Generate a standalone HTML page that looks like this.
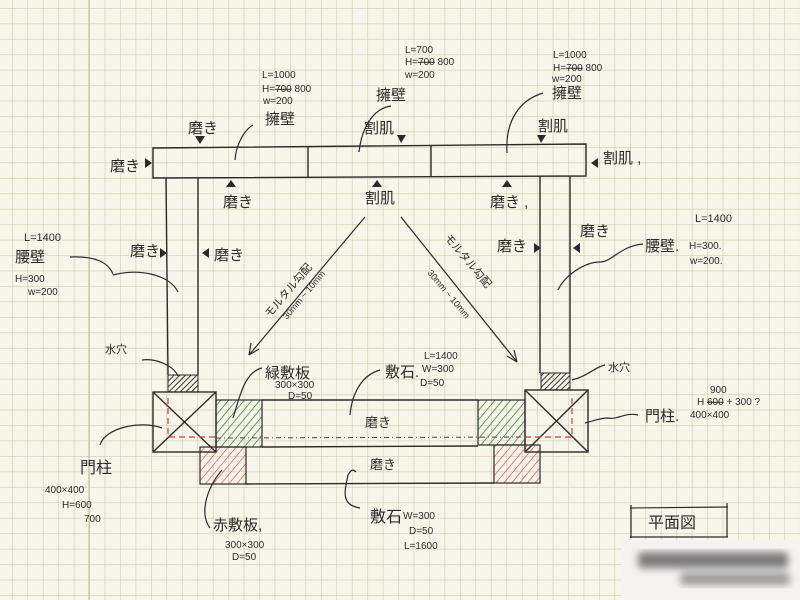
<!DOCTYPE html>
<html><head><meta charset="utf-8"><style>
html,body{margin:0;padding:0;background:#f8f6ea}
svg{display:block}
text{font-family:"Liberation Sans","Noto Sans CJK JP",sans-serif;fill:#2a2a2a}
.j{font-size:15px}
.s{font-size:10px}
</style></head><body>
<svg width="800" height="600" viewBox="0 0 800 600" xmlns="http://www.w3.org/2000/svg">
<defs>
<pattern id="g" x="12" y="8" width="15.45" height="15.45" patternUnits="userSpaceOnUse">
<path d="M0 0H15.45M0 0V15.45" stroke="#d0c9ad" stroke-width="1.2" fill="none"/>
</pattern>
<pattern id="hk" width="4" height="4" patternUnits="userSpaceOnUse" patternTransform="rotate(45)"><line x1="0" y1="0" x2="0" y2="4" stroke="#222" stroke-width="1.8"/></pattern>
<pattern id="hg" width="6" height="6" patternUnits="userSpaceOnUse" patternTransform="rotate(40)"><line x1="0" y1="0" x2="0" y2="6" stroke="#2e7d4a" stroke-width="1.5"/></pattern>
<pattern id="hr" width="6" height="6" patternUnits="userSpaceOnUse" patternTransform="rotate(40)"><line x1="0" y1="0" x2="0" y2="6" stroke="#d9364a" stroke-width="1.2"/></pattern>
<filter id="bl"><feGaussianBlur stdDeviation="4"/></filter>
</defs>
<rect width="800" height="600" fill="#f8f6ea"/>
<rect width="800" height="600" fill="url(#g)"/>
<line x1="89" y1="0" x2="89" y2="600" stroke="#c9c1a4" stroke-width="1.2"/>

<g stroke="#2a2a2a" stroke-width="1.4" fill="none">
<path d="M153 148 L586 144 L586 176 L153 178 Z"/>
<line x1="308" y1="147" x2="308" y2="177"/>
<line x1="431" y1="146" x2="431" y2="176"/>
<line x1="166" y1="178" x2="168" y2="375"/>
<line x1="198" y1="178" x2="198" y2="375"/>
<line x1="540" y1="176" x2="540" y2="373"/>
<line x1="570" y1="176" x2="570" y2="373"/>
</g>
<rect x="168" y="375" width="30" height="17" fill="url(#hk)" stroke="#2a2a2a"/>
<rect x="541" y="373" width="29" height="17" fill="url(#hk)" stroke="#2a2a2a"/>
<rect x="216" y="400" width="46" height="47" fill="url(#hg)" stroke="#2a2a2a" stroke-width="1.2"/>
<rect x="478" y="400" width="47" height="45" fill="url(#hg)" stroke="#2a2a2a" stroke-width="1.2"/>
<rect x="200" y="447" width="46" height="37" fill="url(#hr)" stroke="#2a2a2a" stroke-width="1.2"/>
<rect x="494" y="445" width="46" height="38" fill="url(#hr)" stroke="#2a2a2a" stroke-width="1.2"/>
<g stroke="#2a2a2a" stroke-width="1.4" fill="none">
<line x1="262" y1="400" x2="478" y2="400"/>
<line x1="262" y1="447" x2="478" y2="446"/>
<line x1="246" y1="484" x2="494" y2="483"/>
<rect x="153" y="392" width="63" height="60"/>
<line x1="153" y1="392" x2="216" y2="452"/><line x1="216" y1="392" x2="153" y2="452"/>
<rect x="525" y="390" width="63" height="62"/>
<line x1="525" y1="390" x2="588" y2="452"/><line x1="588" y1="390" x2="525" y2="452"/>
</g>
<g stroke="#d9364a" stroke-width="1.2" fill="none" stroke-dasharray="6 4">
<path d="M168 398 L168 437 L216 437"/>
<path d="M572 398 L572 437 L525 437"/>
</g>
<line x1="216" y1="438" x2="525" y2="437" stroke="#444" stroke-width="1" stroke-dasharray="5 3 1 3"/>

<g stroke="#2a2a2a" stroke-width="1.2" fill="none">
<line x1="365" y1="217" x2="249" y2="355"/>
<path d="M249 355 l2 -12 M249 355 l10 -6"/>
<line x1="401" y1="217" x2="517" y2="362"/>
<path d="M517 362 l-3 -12 M517 362 l-10 -6"/>
<path d="M253 125 C244 130 236 145 235 160"/>
<path d="M391 106 C375 108 362 125 359 152"/>
<path d="M543 93 C520 100 505 120 507 153"/>
<path d="M70 257 C95 256 108 262 113 274"/>
<path d="M113 275 C140 268 170 275 178 292"/>
<path d="M643 244 C620 246 612 262 600 262 C585 262 565 275 558 290"/>
<path d="M142 360 C155 358 173 365 178 376"/>
<path d="M100 445 C105 428 140 420 162 428"/>
<path d="M262 368 C245 372 240 395 233 418"/>
<path d="M380 370 C362 375 352 393 350 415"/>
<path d="M210 528 C200 515 205 490 222 470"/>
<path d="M360 508 C340 505 345 490 348 475 C352 468 354 470 356 472"/>
<path d="M605 365 C595 367 590 375 572 380"/>
<path d="M638 415 C625 412 618 420 608 418 C600 418 597 420 585 423"/>
</g>

<g fill="#2a2a2a">
<path d="M195 136 l10 0 l-5 8z"/>
<path d="M145 158 l7 5 l-7 5z"/>
<path d="M397 135 l9 0 l-5 8z"/>
<path d="M537 135 l9 0 l-5 8z"/>
<path d="M598 158 l-7 5 l7 5z"/>
<path d="M226 187 l5 -7 l5 7z"/>
<path d="M372 187 l5 -7 l5 7z"/>
<path d="M502 187 l5 -7 l5 7z"/>
<path d="M160 248 l7 5 l-7 5z"/>
<path d="M209 248 l-7 5 l7 5z"/>
<path d="M534 243 l7 5 l-7 5z"/>
<path d="M580 243 l-7 5 l7 5z"/>
</g>

<g class="s">
<text x="262" y="78">L=1000</text>
<text x="262" y="92">H=<tspan text-decoration="line-through">700</tspan>  800</text>
<text x="263" y="104">w=200</text>
<text x="405" y="53">L=700</text>
<text x="405" y="65">H=<tspan text-decoration="line-through">700</tspan>  800</text>
<text x="405" y="78">w=200</text>
<text x="553" y="58">L=1000</text>
<text x="553" y="71">H=<tspan text-decoration="line-through">700</tspan>  800</text>
<text x="552" y="82">w=200</text>
<text x="24" y="241" font-size="11">L=1400</text>
<text x="15" y="282">H=300</text>
<text x="28" y="295">w=200</text>
<text x="695" y="222" font-size="11">L=1400</text>
<text x="689" y="249">H=300.</text>
<text x="690" y="264">w=200.</text>
<text x="45" y="493">400×400</text>
<text x="62" y="508">H=600</text>
<text x="84" y="522">700</text>
<text x="275" y="388">300×300</text>
<text x="288" y="399">D=50</text>
<text x="424" y="359">L=1400</text>
<text x="422" y="372">W=300</text>
<text x="420" y="386">D=50</text>
<text x="225" y="548">300×300</text>
<text x="232" y="560">D=50</text>
<text x="403" y="519">W=300</text>
<text x="409" y="534">D=50</text>
<text x="404" y="549">L=1600</text>
<text x="710" y="393">900</text>
<text x="697" y="405">H <tspan text-decoration="line-through">600</tspan> + 300 ?</text>
<text x="690" y="418">400×400</text>
</g>
<g class="j">
<text x="265" y="124">擁壁</text>
<text x="188" y="133">磨き</text>
<text x="110" y="171">磨き</text>
<text x="376" y="100">擁壁</text>
<text x="364" y="133">割肌</text>
<text x="552" y="98">擁壁</text>
<text x="538" y="131">割肌</text>
<text x="603" y="163">割肌 ,</text>
<text x="223" y="207">磨き</text>
<text x="365" y="203">割肌</text>
<text x="490" y="207">磨き ,</text>
<text x="15" y="262">腰壁</text>
<text x="130" y="256">磨き</text>
<text x="214" y="260">磨き</text>
<text x="497" y="251">磨き</text>
<text x="580" y="236">磨き</text>
<text x="645" y="251">腰壁.</text>
<text x="105" y="353" font-size="11">水穴</text>
<text x="608" y="371" font-size="11">水穴</text>
<text x="80" y="473" font-size="16">門柱</text>
<text x="265" y="378">緑敷板</text>
<text x="385" y="377">敷石.</text>
<text x="365" y="427" font-size="13">磨き</text>
<text x="370" y="469" font-size="13">磨き</text>
<text x="213" y="530">赤敷板,</text>
<text x="370" y="522" font-size="16">敷石</text>
<text x="645" y="421">門柱.</text>
</g>
<g font-size="11">
<text transform="translate(270,318) rotate(-50)">モルタル勾配</text>
<text font-size="9" transform="translate(287,320) rotate(-50)">30mm ~ 10mm</text>
<text transform="translate(444,238) rotate(50)">モルタル勾配</text>
<text font-size="9" transform="translate(427,273) rotate(50)">30mm ~ 10mm</text>
</g>
<g stroke="#2a2a2a" stroke-width="1.2" fill="none">
<line x1="630" y1="508" x2="728" y2="507"/>
<line x1="630" y1="537" x2="728" y2="537"/>
<line x1="631" y1="505" x2="631" y2="538"/>
<line x1="727" y1="503" x2="727" y2="537"/>
</g>
<text x="648" y="528" font-size="16">平面図</text>
<rect x="622" y="540" width="178" height="60" fill="#f4f3f0"/>
<g filter="url(#bl)" fill="#7a7a7a">
<rect x="638" y="552" width="150" height="16" rx="4"/>
<rect x="680" y="573" width="110" height="12" rx="4" fill="#999"/>
</g>
</svg>
</body></html>
